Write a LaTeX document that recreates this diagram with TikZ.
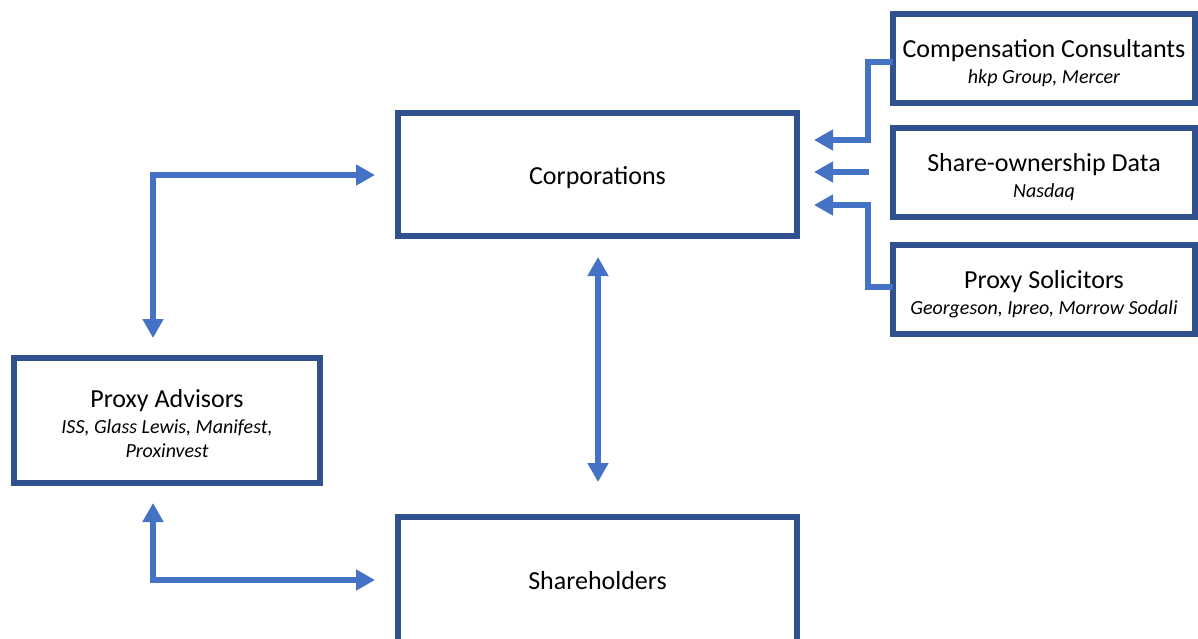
\documentclass[tikz,border=0pt]{standalone}
\usepackage{fontspec}
\setmainfont{Carlito}
\usetikzlibrary{arrows.meta}
\definecolor{boxblue}{HTML}{2F528F}
\definecolor{arrblue}{HTML}{4472C4}
\newcommand\titlefont{\fontsize{26}{24}\selectfont}
\newcommand\subfont{\fontsize{20}{24}\selectfont\itshape}
\tikzset{
  box/.style={draw=boxblue, line width=6pt, fill=white, inner sep=0pt, outer sep=0pt, align=center, font=\titlefont},
  conn/.style={draw=arrblue, line width=6pt, -{Triangle[width=20pt,length=19pt]}},
  conntwo/.style={draw=arrblue, line width=6pt, {Triangle[width=20pt,length=19pt]}-{Triangle[width=20pt,length=19pt]}}
}
\begin{document}
\begin{tikzpicture}[x=1pt,y=-1pt]
\useasboundingbox (0,0) rectangle (1198,638);
\clip (0,0) rectangle (1198,638);
% nodes
\node[box, minimum width=399pt, minimum height=123pt] (corp) at (597.5,174.5) {\rule{0pt}{24pt}Corporations};
\node[box, minimum width=399pt, minimum height=128pt] (share) at (597.5,581) {Shareholders};
\node[box, minimum width=306pt, minimum height=125pt] (pa) at (167,420.5)
  {\rule{0pt}{24pt}Proxy Advisors\\[2pt]\subfont ISS, Glass Lewis, Manifest,\\\subfont Proxinvest};
\node[box, minimum width=302pt, minimum height=89pt] (cc) at (1044,58.5)
  {\rule{0pt}{28pt}Compensation Consultants\\[2pt]\subfont hkp Group, Mercer};
\node[box, minimum width=302pt, minimum height=89pt] (sd) at (1044,172.5)
  {\rule{0pt}{28pt}Share-ownership Data\\[2pt]\subfont Nasdaq};
\node[box, minimum width=302pt, minimum height=89pt] (ps) at (1044,289.5)
  {\rule{0pt}{28pt}Proxy Solicitors\\[2pt]\subfont Georgeson, Ipreo, Morrow Sodali};
% free ends
\coordinate (t1) at (814,140);
\coordinate (s2) at (869,172);
\coordinate (t2) at (814,172);
\coordinate (t3) at (814,205);
\coordinate (pat) at (153,338);
\coordinate (cl) at (375,175);
\coordinate (pab) at (153,503);
\coordinate (sl) at (375,580);
\coordinate (cb) at (598,257);
\coordinate (st) at (598,482);
% connectors
\draw[conn] (cc.west |- 0,62) -| (868,100) |- (t1);
\draw[conn] (s2) -- (t2);
\draw[conn] (ps.west |- 0,287) -| (868,250) |- (t3);
\draw[conntwo] (pat) |- (cl);
\draw[conntwo] (pab) |- (sl);
\draw[conntwo] (cb) -- (st);
\end{tikzpicture}
\end{document}
